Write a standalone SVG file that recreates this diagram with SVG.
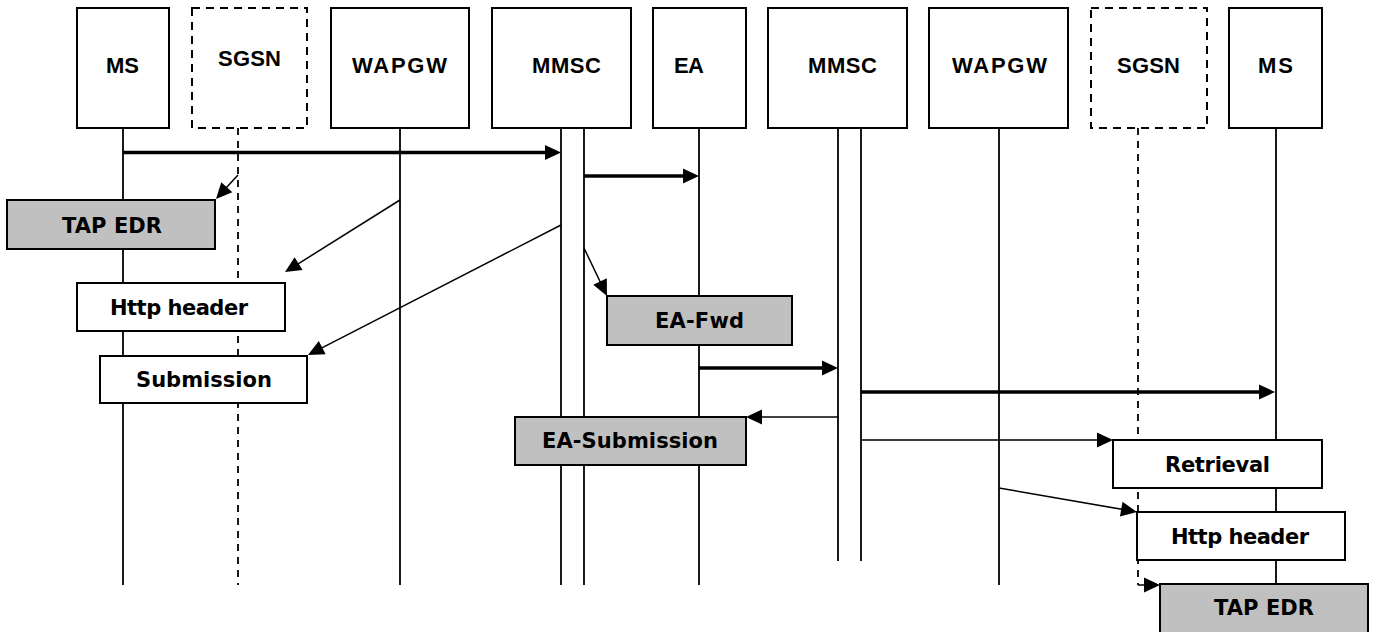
<svg xmlns="http://www.w3.org/2000/svg" width="1377" height="632" viewBox="0 0 1377 632">
<style>
.hdr{fill:#fff;stroke:#000;stroke-width:2}
.hdr.dash{stroke-dasharray:8 6}
.ht{font-family:"Liberation Sans",Arial,sans-serif;font-weight:bold;font-size:22px;fill:#000}
.life{stroke:#000;stroke-width:1.8;fill:none}
.life.dash{stroke-dasharray:7 6}
.box{stroke:#000;stroke-width:2;fill:#fff}
.box.gray{fill:#c0c0c0}
.bt{font-family:"DejaVu Sans",Verdana,sans-serif;font-weight:bold;font-size:21px;fill:#000}
.thin{stroke:#000;stroke-width:1.5;fill:none;marker-end:url(#ah)}
.thick{stroke:#000;stroke-width:3.5;fill:none;marker-end:url(#ah)}
</style>
<defs>
<marker id="ah" markerUnits="userSpaceOnUse" markerWidth="16" markerHeight="15" refX="8" refY="7.5" orient="auto" overflow="visible">
<path d="M0,0 L16,7.5 L0,15 z" fill="#000"/>
</marker>
</defs>
<rect width="1377" height="632" fill="#fff"/>

<g id="lifelines">
<line class="life" x1="123" y1="128" x2="123" y2="585"/>
<line class="life dash" x1="238" y1="128" x2="238" y2="585"/>
<line class="life" x1="400" y1="128" x2="400" y2="585"/>
<line class="life" x1="561" y1="128" x2="561" y2="585"/>
<line class="life" x1="584" y1="128" x2="584" y2="585"/>
<line class="life" x1="699" y1="128" x2="699" y2="585"/>
<line class="life" x1="838" y1="128" x2="838" y2="561"/>
<line class="life" x1="861" y1="128" x2="861" y2="561"/>
<line class="life" x1="999" y1="128" x2="999" y2="585"/>
<line class="life dash" x1="1138" y1="128" x2="1138" y2="585"/>
<line class="life" x1="1276" y1="128" x2="1276" y2="585"/>
</g>

<g id="connectors">
<line class="thick" x1="123" y1="152.5" x2="553" y2="152.5"/>
<line class="thick" x1="584" y1="176" x2="691" y2="176"/>
<line class="thin" x1="238" y1="175" x2="221.4" y2="193.1"/>
<line class="thin" x1="400" y1="200" x2="291.8" y2="267.8"/>
<line class="thin" x1="561" y1="225" x2="315.1" y2="351.3"/>
<line class="thin" x1="584" y1="248" x2="603.5" y2="288.8"/>
<line class="thick" x1="699" y1="368" x2="830" y2="368"/>
<line class="thick" x1="861" y1="392" x2="1267" y2="392"/>
<line class="thin" x1="838" y1="417" x2="754" y2="417"/>
<line class="thin" x1="861" y1="440" x2="1105" y2="440"/>
<line class="thin" x1="999" y1="488" x2="1129.1" y2="510.6"/>
<line class="thin" x1="1138" y1="585" x2="1152" y2="585"/>
</g>

<g id="node-ms1"><rect class="hdr" x="77" y="8" width="92" height="120"/><text class="ht" x="106" y="73" textLength="33">MS</text></g>
<g id="node-sgsn1"><rect class="hdr dash" x="192" y="8" width="115" height="120"/><text class="ht" x="218" y="66" textLength="63">SGSN</text></g>
<g id="node-wapgw1"><rect class="hdr" x="331" y="8" width="138" height="120"/><text class="ht" x="352" y="73" textLength="95">WAPGW</text></g>
<g id="node-mmsc1"><rect class="hdr" x="492" y="8" width="139" height="120"/><text class="ht" x="532" y="73" textLength="69">MMSC</text></g>
<g id="node-ea"><rect class="hdr" x="653" y="8" width="93" height="120"/><text class="ht" x="674" y="73" textLength="30">EA</text></g>
<g id="node-mmsc2"><rect class="hdr" x="768" y="8" width="139" height="120"/><text class="ht" x="808" y="73" textLength="69">MMSC</text></g>
<g id="node-wapgw2"><rect class="hdr" x="929" y="8" width="139" height="120"/><text class="ht" x="952" y="73" textLength="95">WAPGW</text></g>
<g id="node-sgsn2"><rect class="hdr dash" x="1091" y="8" width="116" height="120"/><text class="ht" x="1117" y="73" textLength="63">SGSN</text></g>
<g id="node-ms2"><rect class="hdr" x="1229" y="8" width="93" height="120"/><text class="ht" x="1258" y="73" textLength="35">MS</text></g>

<g id="box-tapedr1"><rect class="box gray" x="7" y="200" width="208" height="49"/><text class="bt" x="62" y="233" textLength="100">TAP EDR</text></g>
<g id="box-http1"><rect class="box" x="77" y="283" width="208" height="48"/><text class="bt" x="110" y="315" textLength="138">Http header</text></g>
<g id="box-submission"><rect class="box" x="100" y="356" width="207" height="47"/><text class="bt" x="136" y="387" textLength="136">Submission</text></g>
<g id="box-eafwd"><rect class="box gray" x="607" y="296" width="185" height="49"/><text class="bt" x="655" y="328" textLength="89">EA-Fwd</text></g>
<g id="box-easub"><rect class="box gray" x="515" y="417" width="231" height="48"/><text class="bt" x="542" y="448" textLength="176">EA-Submission</text></g>
<g id="box-retrieval"><rect class="box" x="1113" y="440" width="209" height="48"/><text class="bt" x="1165" y="472" textLength="105">Retrieval</text></g>
<g id="box-http2"><rect class="box" x="1137" y="512" width="208" height="48"/><text class="bt" x="1171" y="544" textLength="138">Http header</text></g>
<g id="box-tapedr2"><rect class="box gray" x="1160" y="584" width="208" height="60"/><text class="bt" x="1214" y="615" textLength="100">TAP EDR</text></g>
</svg>
